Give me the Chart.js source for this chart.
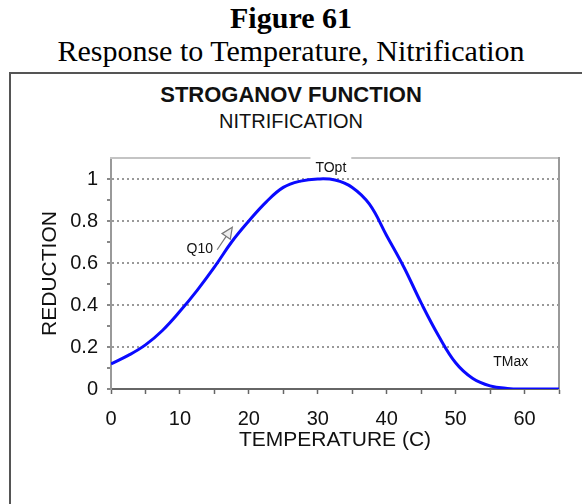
<!DOCTYPE html>
<html>
<head>
<meta charset="utf-8">
<script src="https://cdn.jsdelivr.net/npm/chart.js@4/dist/chart.umd.min.js"></script>
<style>
  body { margin: 0; background: #fff; }
  #page { position: relative; width: 582px; height: 504px; overflow: hidden; }
  .txt { position: absolute; left: 0; width: 582px; text-align: center; color: #000; white-space: nowrap; }
  #fig { top: 3px; font: bold 30px/30px "Liberation Serif", "Times New Roman", serif; }
  #sub { top: 36px; font: 30px/30px "Liberation Serif", "Times New Roman", serif; }
  #box { position: absolute; left: 9px; top: 72px; width: 600px; height: 500px;
         border-left: 2px solid #555; border-top: 2px solid #555; }
  #ttl { top: 84px; font: bold 22px/22px "Liberation Sans", Arial, sans-serif; color: #111; }
  #ttl2 { top: 111px; font: 20px/20px "Liberation Sans", Arial, sans-serif; color: #111; }
  #wrap { position: absolute; left: 0; top: 0; width: 582px; height: 504px; }
</style>
</head>
<body>
<div id="page">
  <div class="txt" id="fig">Figure 61</div>
  <div class="txt" id="sub">Response to Temperature, Nitrification</div>
  <div id="box"></div>
  <div class="txt" id="ttl">STROGANOV FUNCTION</div>
  <div class="txt" id="ttl2">NITRIFICATION</div>
  <div id="wrap"><canvas id="strog-chart"></canvas></div>
</div>
<script>
// temperature (C) and reduction factor
const temps = [0, 2.5, 5, 7.5, 10, 12.5, 15, 17.5, 20, 22.5, 25, 27.5, 30, 32.5,
  35, 37.5, 40, 42.5, 45, 47.5, 50, 52.5, 55, 57.5, 60, 62.5, 65];
const reduction = [0.12, 0.16, 0.21, 0.28, 0.37, 0.47, 0.58, 0.70, 0.80, 0.89, 0.96, 0.99, 1.0, 0.995,
  0.96, 0.88, 0.73, 0.58, 0.41, 0.255, 0.125, 0.05, 0.015, 0.003, 0, 0, 0];

const xTickLabels = [0, 10, 20, 30, 40, 50, 60];
const yTickLabels = [0, 0.2, 0.4, 0.6, 0.8, 1];

// text notes on the plot, placed in data units
const notes = [
  { text: 'TOpt', x: 31.9, y: 1.052, align: 'center', clear: true },
  { text: 'Q10', x: 14.8, y: 0.667, align: 'right' },
  { text: 'TMax', x: 58, y: 0.129, align: 'center' }
];
const q10Arrow = { from: [15.4, 0.663], to: [17.6, 0.77] };

const points = temps.map((t, i) => ({ x: t, y: reduction[i] }));

Chart.defaults.font.family = '"Liberation Sans", Arial, sans-serif';
Chart.defaults.color = '#111';

const tenth = v => Math.round(v * 10);

const notesPlugin = {
  id: 'notes',
  afterDraw(chart) {
    const ctx = chart.ctx;
    const xs = chart.scales.x;
    const ys = chart.scales.y;
    ctx.save();
    ctx.font = '14px "Liberation Sans", Arial, sans-serif';
    ctx.textBaseline = 'middle';
    notes.forEach(n => {
      const px = xs.getPixelForValue(n.x);
      const py = ys.getPixelForValue(n.y);
      if (n.clear) {
        const w = ctx.measureText(n.text).width + 10;
        ctx.fillStyle = '#fff';
        ctx.fillRect(px - w / 2, chart.chartArea.top - 3, w, 6);
      }
      ctx.fillStyle = '#111';
      ctx.textAlign = n.align;
      ctx.fillText(n.text, px, py);
    });

    // Q10 arrow
    const x1 = xs.getPixelForValue(q10Arrow.from[0]);
    const y1 = ys.getPixelForValue(q10Arrow.from[1]);
    const x2 = xs.getPixelForValue(q10Arrow.to[0]);
    const y2 = ys.getPixelForValue(q10Arrow.to[1]);
    const ang = Math.atan2(y2 - y1, x2 - x1);
    const hl = 11, hw = 5;
    const bx = x2 - hl * Math.cos(ang), by = y2 - hl * Math.sin(ang);
    ctx.strokeStyle = '#777';
    ctx.lineWidth = 1.2;
    ctx.beginPath();
    ctx.moveTo(x1, y1);
    ctx.lineTo(bx, by);
    ctx.stroke();
    ctx.beginPath();
    ctx.moveTo(x2, y2);
    ctx.lineTo(bx + hw * Math.sin(ang), by - hw * Math.cos(ang));
    ctx.lineTo(bx - hw * Math.sin(ang), by + hw * Math.cos(ang));
    ctx.closePath();
    ctx.fillStyle = '#eee';
    ctx.fill();
    ctx.stroke();
    ctx.restore();
  }
};

new Chart(document.getElementById('strog-chart'), {
  type: 'line',
  data: {
    datasets: [{
      data: points,
      borderColor: '#0a0aff',
      borderWidth: 3,
      pointRadius: 0,
      fill: false,
      tension: 0.4
    }]
  },
  options: {
    responsive: true,
    maintainAspectRatio: false,
    animation: false,
    layout: { padding: { top: 158, left: 0, right: 23, bottom: 0 } },
    plugins: { legend: { display: false }, tooltip: { enabled: false } },
    scales: {
      x: {
        type: 'linear',
        position: 'bottom',
        min: 0, max: 65,
        afterFit: s => { s.height = 115; },
        ticks: {
          stepSize: 5, autoSkip: false, maxRotation: 0, padding: 13,
          font: { size: 20 },
          callback: v => xTickLabels.includes(v) ? String(v) : ''
        },
        grid: { drawOnChartArea: false, tickLength: 5, tickColor: '#666', tickWidth: 1.5 },
        border: { color: '#666', width: 2 },
        title: {
          display: true, text: 'TEMPERATURE (C)',
          font: { size: 21 }, padding: { top: 0, bottom: 51 }
        }
      },
      y: {
        position: 'left',
        min: 0, max: 1.1,
        afterFit: s => { s.width = 111; },
        ticks: {
          stepSize: 0.1, autoSkip: false, padding: 9,
          font: { size: 20 },
          callback: v => yTickLabels.some(l => tenth(l) === tenth(v)) ? String(tenth(v) / 10) : ''
        },
        grid: {
          tickLength: 4,
          lineWidth: 2,
          color: c => {
            const t = tenth(c.tick.value);
            return (t % 2 === 0 && t > 0 && t <= 10) ? '#999' : 'rgba(0,0,0,0)';
          },
          tickColor: c => tenth(c.tick.value) <= 10 ? '#888' : 'rgba(0,0,0,0)'
        },
        border: { color: '#999', width: 2, dash: [2, 3] },
        title: {
          display: true, text: 'REDUCTION',
          font: { size: 21 }, padding: { top: 38, bottom: 0 }
        }
      },
      xTop: {
        type: 'linear', position: 'top', min: 0, max: 65,
        afterFit: s => { s.height = 0; },
        ticks: { display: false },
        grid: { drawOnChartArea: false, drawTicks: false },
        border: { color: '#c4c4c4', width: 2 }
      },
      yRight: {
        position: 'right', min: 0, max: 1.1,
        afterFit: s => { s.width = 0; },
        ticks: { display: false },
        grid: { drawOnChartArea: false, drawTicks: false },
        border: { color: '#999', width: 2 }
      }
    }
  },
  plugins: [notesPlugin]
});
</script>
</body>
</html>
